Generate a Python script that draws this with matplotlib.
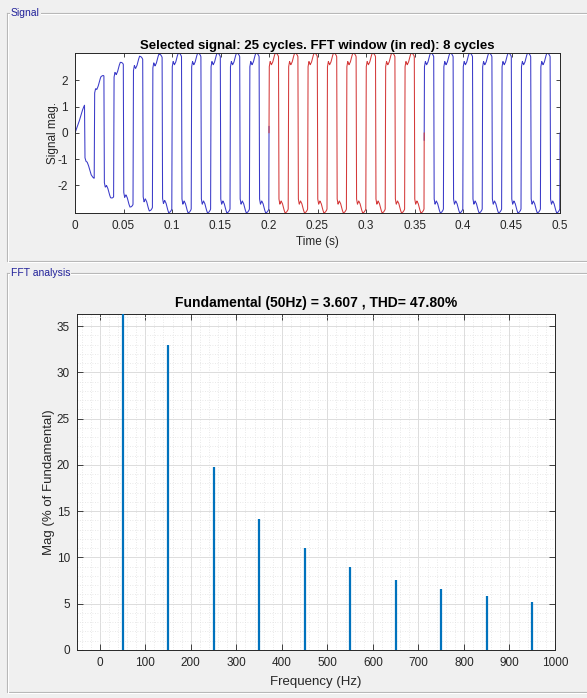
import numpy as np
import matplotlib
matplotlib.use("Agg")
import matplotlib.pyplot as plt
from matplotlib.lines import Line2D
from matplotlib.ticker import MultipleLocator, FuncFormatter

plt.rcParams['font.family'] = ['Liberation Sans', 'DejaVu Sans']
plt.rcParams['axes.unicode_minus'] = False

# ---------------- data ----------------
fundamental_hz = 50
fundamental_mag = 3.607
thd_pct = 47.80
harm_freqs = [50, 150, 250, 350, 450, 550, 650, 750, 850, 950]
harm_pct = [100.0, 33.0, 19.8, 14.1, 11.0, 9.0, 7.6, 6.6, 5.8, 5.2]

# signal: steady peak, one half-cycle shape (fraction of half-cycle -> fraction of peak)
signal_peak = 3.05
half_frac = [0.0, 0.02, 0.12, 0.25, 0.38, 0.52, 0.66, 0.80, 0.92, 0.98, 1.0]
half_shape = [0.0, 0.82, 0.89, 0.85, 0.88, 0.95, 1.0, 0.99, 0.97, 0.95, 0.0]
# start-up envelope (fraction of steady amplitude) at half-cycle ends
env_t = [0.0, 0.01, 0.02, 0.03, 0.04, 0.05, 0.06, 0.07, 0.08, 0.09, 0.10, 0.5]
env_v = [0.0, 0.37, 0.60, 0.75, 0.84, 0.90, 0.94, 0.965, 0.98, 0.99, 1.0, 1.0]
fft_start, fft_end = 0.2, 0.36
n_cycles, fft_cycles = 25, 8

# ---------------- figure ----------------
W, H = 587, 698
fig = plt.figure(figsize=(W / 100, H / 100), dpi=100)
bg = '#f0f0f0'
fig.patch.set_facecolor(bg)

def fx(px):
    return px / W

def fy(py):
    return 1 - py / H

def panel(x0, y0, x1, y1, title):
    for off, col in ((0, '#b4b4b4'), (1, '#ffffff')):
        xs = [fx(x0 + off), fx(x0 + off), fx(x1 + off), fx(x1 + off), fx(x0 + off)]
        ys = [fy(y0 + off), fy(y1 + off), fy(y1 + off), fy(y0 + off), fy(y0 + off)]
        fig.add_artist(Line2D(xs, ys, color=col, lw=0.8, transform=fig.transFigure))
    fig.text(fx(x0 + 4), fy(y0), title, fontsize=7.5, color='#22229a',
             va='center', ha='left',
             bbox=dict(facecolor=bg, edgecolor='none', pad=0.5))

panel(7, 13, 600, 261, 'Signal')
panel(7, 273, 600, 692, 'FFT analysis')

tick_col = '#262626'

def style(ax):
    for s in ax.spines.values():
        s.set_color(tick_col)
        s.set_linewidth(0.7)
    ax.tick_params(direction='in', top=True, right=True, length=4, width=0.6,
                   colors=tick_col, labelsize=8.5, pad=5)

# ---------------- signal axes ----------------
ax1 = fig.add_axes([fx(75), fy(213), fx(560) - fx(75), fy(52.7) - fy(213)])
half_period = 0.5 / fundamental_hz
t = np.linspace(0, 0.5, 25001)
dt = t[1] - t[0]
k = np.floor(t / half_period)
frac = t / half_period - k
sign = np.where(k % 2 == 0, 1.0, -1.0)
sig = signal_peak * np.interp(t, env_t, env_v) * sign * np.interp(frac, half_frac, half_shape)

blue = '#3a3ac8'
red = '#d43a3a'
win = (t >= fft_start - dt / 2) & (t <= fft_end + dt / 2)
inner = (t > fft_start + 1.5 * dt) & (t < fft_end - 1.5 * dt)
sig_blue = np.where(inner, np.nan, sig)
kw = dict(lw=0.75, solid_capstyle='round', solid_joinstyle='round')
ax1.plot(t, sig_blue, color=blue, **kw)
ax1.plot(t[win], sig[win], color=red, **kw)
ax1.set_xlim(0, 0.5)
ax1.set_ylim(sig.min(), sig.max())
ax1.set_xticks(np.arange(0, 0.501, 0.05))
ax1.xaxis.set_major_formatter(FuncFormatter(lambda v, _: ('%g' % round(v, 3))))
ax1.set_yticks([-2, -1, 0, 1, 2])
style(ax1)
ax1.tick_params(length=3)
ax1.set_xlabel('Time (s)', fontsize=8.5, color=tick_col, labelpad=3)
ax1.set_ylabel('Signal mag.', fontsize=8.5, color=tick_col, labelpad=-1)
ax1.set_title('Selected signal: %d cycles. FFT window (in red): %d cycles' % (n_cycles, fft_cycles),
              fontsize=9.5, fontweight='bold', color='#000000', pad=3)

# ---------------- FFT axes ----------------
ax2 = fig.add_axes([fx(77), fy(650), fx(555) - fx(77), fy(314) - fy(650)])
ax2.vlines(harm_freqs, 0, harm_pct, color='#0072BD', lw=1.6, zorder=3, capstyle='butt')
ax2.set_xlim(-50, 1000)
ax2.set_ylim(0, max(harm_pct[1:]) * 1.1)
ax2.set_xticks(np.arange(0, 1001, 100))
ax2.set_yticks(np.arange(0, 36, 5))
ax2.xaxis.set_minor_locator(MultipleLocator(20))
ax2.yaxis.set_minor_locator(MultipleLocator(1))
ax2.grid(which='major', color='#dcdcdc', lw=0.7, zorder=0)
ax2.grid(which='minor', color='#e2e2e2', lw=0.6, ls=(0, (1, 2)), zorder=0)
ax2.set_axisbelow(True)
style(ax2)
ax2.tick_params(which='minor', length=0)
ax2.set_xlabel('Frequency (Hz)', fontsize=9.5, color=tick_col, labelpad=5)
ax2.set_ylabel('Mag (% of Fundamental)', fontsize=9.5, color=tick_col, labelpad=1)
ax2.set_title('Fundamental (%dHz) = %.3f , THD= %.2f%%' % (fundamental_hz, fundamental_mag, thd_pct),
              fontsize=10, fontweight='bold', color='#000000', pad=5)

fig.savefig('out.png', dpi=100, facecolor=bg)
